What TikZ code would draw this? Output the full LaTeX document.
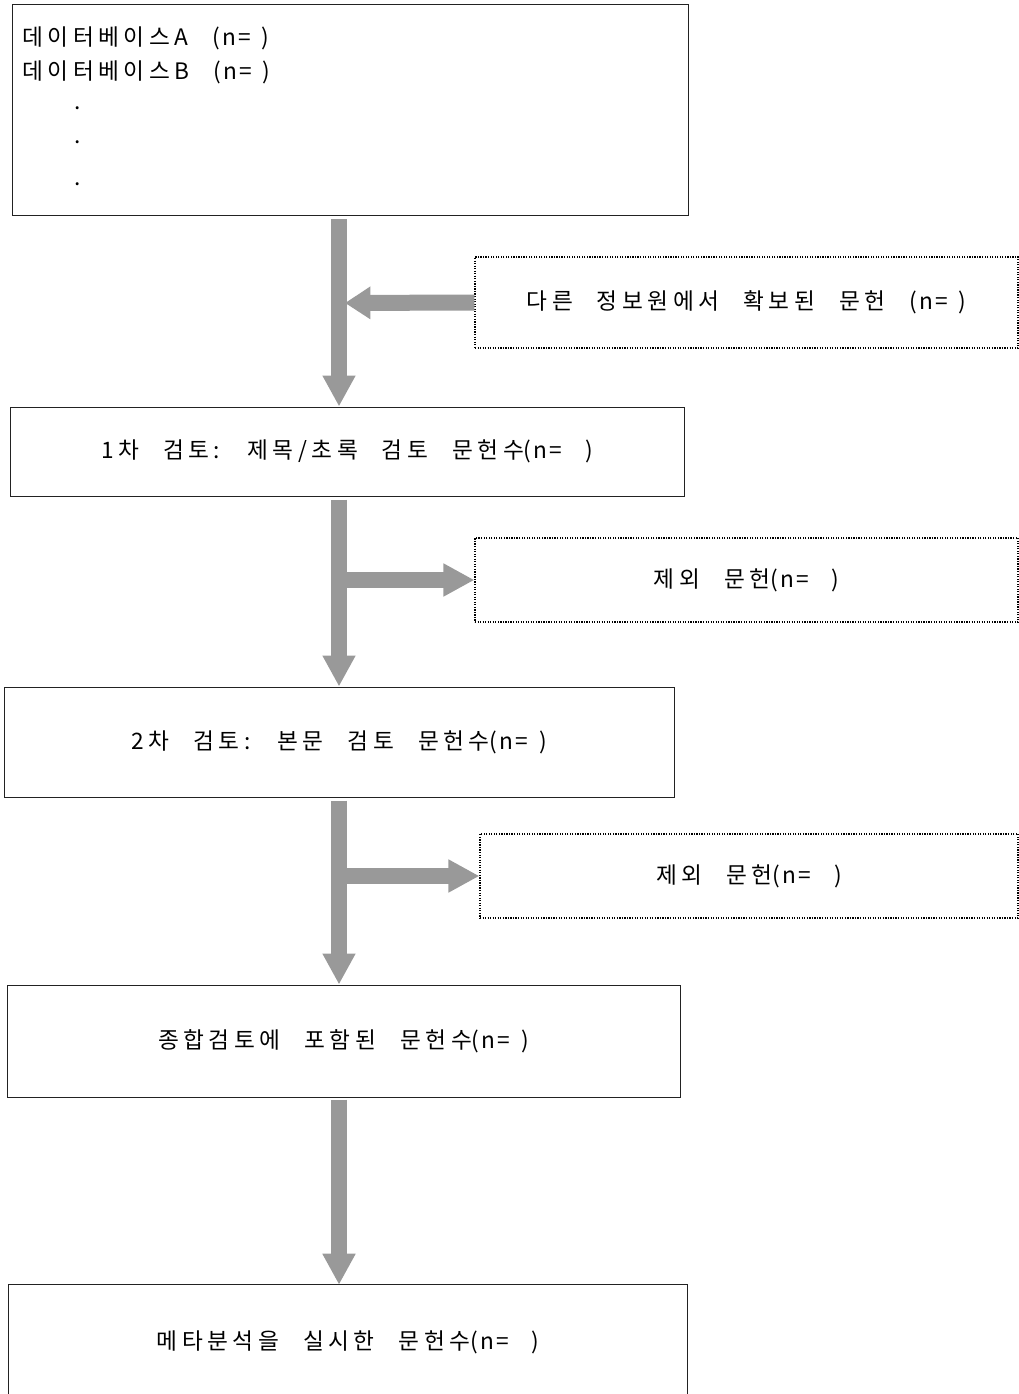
\documentclass[tikz,border=0pt]{standalone}
\usepackage{fontspec}
\setmainfont{Noto Sans CJK KR}[LetterSpace=20, WordSpace=2.5]
\newfontfamily\latn{Noto Sans CJK KR}[LetterSpace=10]
\newcommand{\nnA}{{\latn(n=\hspace*{8pt})}}
\newcommand{\nnB}{{\latn(n=\hspace*{17pt})}}
\usetikzlibrary{arrows.meta}
\definecolor{arrowgray}{RGB}{153,153,153}
\definecolor{edgec}{RGB}{34,34,34}
\begin{document}
\begin{tikzpicture}[x=0.75pt,y=-0.75pt,
  txt/.style={font=\fontsize{17}{20}\selectfont, inner sep=0pt},
  box/.style={txt, draw=edgec, line width=0.75pt, rectangle},
  dotbox/.style={txt, draw=black, densely dotted, line width=0.9pt, rectangle},
  flow/.style={draw=arrowgray, line width=12pt, -{Triangle[width=23.25pt,length=23.25pt]}},
  sideflow/.style={draw=arrowgray, line width=12pt, -{Triangle[width=23.25pt,length=19pt]}},
]
\useasboundingbox (0,0) rectangle (1019,1394);
\coordinate (spine) at (339,0);

% boxes
\node[box, minimum width=507pt, minimum height=158.25pt] (db) at (350,110.5) {};
\node[txt, anchor=west] (dbA) at (22,38) {데이터베이스A \nnA};
\node[txt, anchor=west] (dbB) at (22,72) {데이터베이스B \nnA};
\node[txt, anchor=base] (d1) at (78,110) {.};
\node[txt, anchor=base] (d2) at (78,144) {.};
\node[txt, anchor=base] (d3) at (78,186) {.};

\node[dotbox, minimum width=407.25pt, minimum height=68.25pt] (other) at (746.5,302.5) {다른 정보원에서 확보된 문헌 \nnA};
\node[box, minimum width=505.5pt, minimum height=66.75pt] (first) at (347,451.5) {1차 검토: 제목/초록 검토 문헌수\nnB};
\node[dotbox, minimum width=407.25pt, minimum height=63pt] (ex1) at (746.5,580) {제외 문헌\nnB};
\node[box, minimum width=502.5pt, minimum height=82.5pt] (second) at (339,742) {2차 검토: 본문 검토 문헌수\nnA};
\node[dotbox, minimum width=403.5pt, minimum height=63pt] (ex2) at (749,876) {제외 문헌\nnB};
\node[box, minimum width=504.75pt, minimum height=84pt] (incl) at (343.5,1041) {종합검토에 포함된 문헌수\nnA};
\node[txt, minimum width=508.5pt, minimum height=86.25pt] (meta) at (348,1342.5) {메타분석을 실시한 문헌수\nnB};
\draw[draw=edgec, line width=0.75pt] (meta.south west) -- (meta.north west) -- (meta.north east) -- (meta.south east);

% arrows
\draw[flow, shorten <=2.25pt] (db.south -| spine) -- (first.north -| spine);
\coordinate (join1) at (345,303);
\draw[sideflow] (other.west) -- (join1);
\draw[flow, shorten <=2.25pt] (first.south -| spine) -- (second.north -| spine);
\draw[flow] (spine |- ex1.west) -- (ex1.west);
\draw[flow, shorten <=2.25pt] (second.south -| spine) -- (incl.north -| spine);
\draw[flow] (spine |- ex2.west) -- (ex2.west);
\draw[flow, shorten <=1.5pt] (incl.south -| spine) -- (meta.north -| spine);
\end{tikzpicture}
\end{document}
